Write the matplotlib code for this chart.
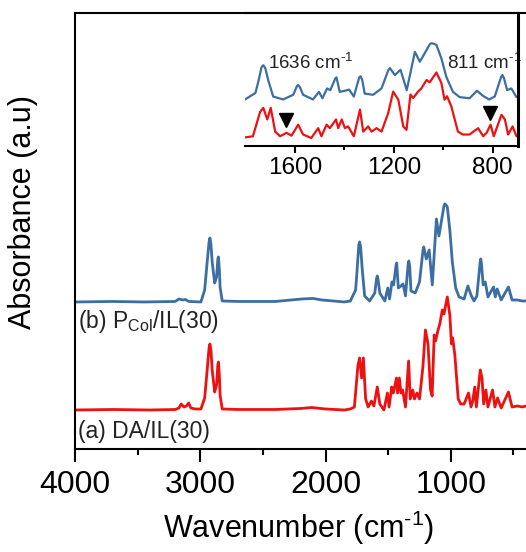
import numpy as np
import matplotlib
matplotlib.use("Agg")
import matplotlib.pyplot as plt

plt.rcParams['font.family'] = ['Liberation Sans', 'DejaVu Sans']
plt.rcParams['mathtext.fontset'] = 'custom'
plt.rcParams['mathtext.rm'] = 'Liberation Sans'
plt.rcParams['mathtext.it'] = 'Liberation Sans:italic'

# (wavenumber, absorbance)
spec_b = [  # (b) PCol/IL(30), blue
    (4000, 0), (3700, 0.005), (3450, 0), (3200, 0.005), (3170, 0.03), (3140, 0.02),
    (3120, 0.025), (3090, 0.005), (2995, 0.0), (2965, 0.12), (2945, 0.40), (2930, 0.60),
    (2923, 0.64), (2915, 0.58), (2905, 0.40), (2885, 0.19), (2870, 0.25), (2860, 0.43),
    (2855, 0.45), (2848, 0.33), (2842, 0.15), (2825, 0.01),
    (2700, 0.005), (2400, 0.005), (2190, 0.03), (2100, 0.035), (2030, 0.02), (1850, 0.0),
    (1802, 0.01), (1760, 0.12), (1748, 0.32), (1735, 0.57), (1728, 0.60), (1720, 0.55),
    (1708, 0.34), (1688, 0.06), (1648, 0.01),
    (1607, 0.09), (1592, 0.24), (1587, 0.26), (1580, 0.22), (1567, 0.09), (1527, 0.01),
    (1503, 0.14), (1489, 0.03),
    (1470, 0.20), (1457, 0.17), (1437, 0.37), (1432, 0.39), (1419, 0.14), (1398, 0.16),
    (1381, 0.18), (1362, 0.06), (1340, 0.39), (1335, 0.41), (1328, 0.35), (1318, 0.11),
    (1284, 0.09), (1250, 0.20), (1222, 0.52), (1216, 0.55),
    (1196, 0.43), (1173, 0.52), (1148, 0.17), (1128, 0.57), (1115, 0.83), (1095, 0.66),
    (1068, 0.86), (1055, 0.96), (1048, 0.98), (1038, 0.97), (1028, 0.95), (1008, 0.72),
    (988, 0.40), (961, 0.14),
    (934, 0.05), (894, 0.03), (864, 0.16), (839, 0.07), (815, 0.01), (792, 0.06),
    (766, 0.40), (761, 0.43), (755, 0.38), (742, 0.17), (725, 0.20), (704, 0.05),
    (659, 0.15), (645, 0.05),
    (630, 0.13), (598, 0.02), (540, 0.15), (511, 0.02), (470, 0.02), (430, 0.01),
    (400, 0.01),
]
spec_a = [  # (a) DA/IL(30), red
    (4000, 0), (3700, 0.005), (3400, 0), (3200, 0.005), (3170, 0.02), (3153, 0.06),
    (3130, 0.03), (3110, 0.04), (3093, 0.07), (3075, 0.02), (3040, 0.01), (2995, 0.01),
    (2965, 0.12), (2945, 0.40), (2930, 0.62), (2923, 0.66), (2915, 0.60), (2905, 0.40),
    (2885, 0.18), (2870, 0.25), (2860, 0.45), (2855, 0.48), (2848, 0.35), (2842, 0.15),
    (2825, 0.01), (2700, 0.005), (2400, 0.005), (2200, 0.015),
    (2111, 0.025), (2000, 0.01), (1850, 0.0), (1802, 0.01), (1770, 0.03), (1741, 0.45),
    (1728, 0.52), (1712, 0.32), (1698, 0.52), (1680, 0.11), (1660, 0.03), (1634, 0.09),
    (1614, 0.04), (1587, 0.23), (1567, 0.06), (1534, 0.0), (1506, 0.17), (1493, 0.03),
    (1472, 0.23), (1459, 0.17), (1434, 0.32), (1425, 0.17), (1411, 0.32), (1398, 0.17),
    (1385, 0.20), (1362, 0.03), (1337, 0.49), (1324, 0.11), (1304, 0.20), (1290, 0.11),
    (1270, 0.17), (1250, 0.11), (1223, 0.43), (1203, 0.80), (1182, 0.66), (1162, 0.20),
    (1149, 0.14), (1133, 0.75), (1122, 0.69), (1102, 0.80), (1088, 0.86), (1068, 1.00),
    (1055, 0.96), (1028, 1.13), (1008, 0.95), (995, 0.66), (985, 0.72), (968, 0.55),
    (941, 0.11), (921, 0.06), (894, 0.06), (859, 0.17), (839, 0.03), (825, 0.09),
    (809, 0.23), (796, 0.03), (765, 0.40), (751, 0.32), (738, 0.06), (720, 0.20),
    (704, 0.03), (667, 0.20), (648, 0.03), (627, 0.12), (598, 0.02), (540, 0.18),
    (511, 0.03), (468, 0.04), (429, 0.03), (400, 0.04),
]
label_b = r'(b) P$_{\rm Col}$/IL(30)'
label_a = '(a) DA/IL(30)'
marked_wn = [1636, 811]
marked_labels = [r'1636 cm$^{\text{-}1}$', r'811 cm$^{\text{-}1}$']

wn_b, ab_b = np.array(spec_b).T
wn_a, ab_a = np.array(spec_a).T

blue = '#3c6ea3'
red = '#ee1111'

fig = plt.figure(figsize=(5.26, 5.52), dpi=100)
# main axes runs past the right edge of the figure (right spine cut off)
ax = fig.add_axes([0.1426, 0.1866, 0.865, 0.790])

# main plot, spectra stacked
off_main = 1.08
line_kw = dict(solid_joinstyle='round', solid_capstyle='round')
ax.plot(wn_b, ab_b + off_main, color=blue, lw=2.0, **line_kw)
ax.plot(wn_a, ab_a, color=red, lw=2.0, **line_kw)
ax.set_xlim(4000, 368)
ax.set_ylim(-0.39, 3.97)
ax.set_xticks([4000, 3000, 2000, 1000])
ax.set_xticks([3500, 2500, 1500, 500], minor=True)
ax.set_yticks([])
ax.tick_params(axis='x', which='major', direction='out', length=9, width=1.5,
               labelsize=23, pad=6)
ax.tick_params(axis='x', which='minor', direction='out', length=4.5, width=1.5)
for s in ax.spines.values():
    s.set_linewidth(1.5)
ax.set_xlabel(r'Wavenumber (cm$^{\text{-}1}$)', fontsize=22)
ax.xaxis.set_label_coords(0.5 * 447 / 455, -0.181)
ax.xaxis.label.set_va('center')
ax.set_ylabel('Absorbance (a.u)', fontsize=22)
ax.yaxis.set_label_coords(-52 / 455, 0.544)
ax.yaxis.label.set_va('center')

ax.text(3976, 0.88, label_b, fontsize=16.5, ha='left', va='center', color='#222222')
ax.text(3976, -0.22, label_a, fontsize=16.5, ha='left', va='center', color='#222222')

# inset: zoom on fingerprint region
ins = fig.add_axes([0.4658, 0.7355, 0.519, 0.2409])
ins.patch.set_alpha(0)
off_ins = 0.655
ins.plot(wn_b, ab_b + off_ins, color=blue, lw=1.6, **line_kw)
ins.plot(wn_a, ab_a, color=red, lw=1.6, **line_kw)
ins.set_xlim(1802, 698)
ins.set_ylim(-0.138, 2.155)
ins.set_xticks([1600, 1200, 800])
ins.set_xticks([1400, 1000], minor=True)
ins.set_yticks([])
ins.spines['left'].set_visible(False)
for side in ['top', 'bottom']:
    ins.spines[side].set_linewidth(1.5)
ins.spines['right'].set_linewidth(2.2)
ins.spines['right'].set_zorder(10)
ins.tick_params(axis='x', which='major', direction='out', length=5, width=1.5,
                labelsize=17.5, pad=3)
ins.tick_params(axis='x', which='minor', direction='out', length=3, width=1.5)

ins.plot(marked_wn, [0.31, 0.43], linestyle='none', marker='v', color='black',
         markersize=10)
ins.text(1709, 1.29, marked_labels[0], fontsize=13.5, ha='left', va='center',
         color='#222222')
ins.text(986, 1.29, marked_labels[1], fontsize=13.5, ha='left', va='center',
         color='#222222', clip_on=False, zorder=1)

fig.savefig('out.png', dpi=100)
